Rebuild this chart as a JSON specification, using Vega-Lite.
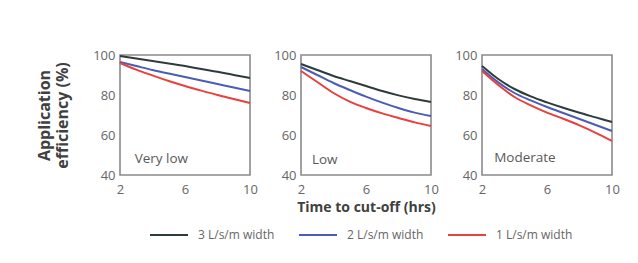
{
  "$schema": "https://vega.github.io/schema/vega-lite/v6.json",
  "autosize": {"type": "pad"},
  "padding": {"left": 35, "top": 48, "right": 18, "bottom": 20},
  "background": "white",
  "datasets": {
    "eff": [
      {"panel": "Very low", "flow": "3 L/s/m width", "t": 2, "eff": 99.5},
      {"panel": "Very low", "flow": "3 L/s/m width", "t": 3, "eff": 98.3},
      {"panel": "Very low", "flow": "3 L/s/m width", "t": 4, "eff": 97},
      {"panel": "Very low", "flow": "3 L/s/m width", "t": 5, "eff": 95.8},
      {"panel": "Very low", "flow": "3 L/s/m width", "t": 6, "eff": 94.5},
      {"panel": "Very low", "flow": "3 L/s/m width", "t": 7, "eff": 93},
      {"panel": "Very low", "flow": "3 L/s/m width", "t": 8, "eff": 91.6},
      {"panel": "Very low", "flow": "3 L/s/m width", "t": 9, "eff": 90},
      {"panel": "Very low", "flow": "3 L/s/m width", "t": 10, "eff": 88.5},
      {"panel": "Very low", "flow": "2 L/s/m width", "t": 2, "eff": 96.5},
      {"panel": "Very low", "flow": "2 L/s/m width", "t": 3, "eff": 94.5},
      {"panel": "Very low", "flow": "2 L/s/m width", "t": 4, "eff": 92.5},
      {"panel": "Very low", "flow": "2 L/s/m width", "t": 5, "eff": 90.7},
      {"panel": "Very low", "flow": "2 L/s/m width", "t": 6, "eff": 89},
      {"panel": "Very low", "flow": "2 L/s/m width", "t": 7, "eff": 87.2},
      {"panel": "Very low", "flow": "2 L/s/m width", "t": 8, "eff": 85.5},
      {"panel": "Very low", "flow": "2 L/s/m width", "t": 9, "eff": 83.8},
      {"panel": "Very low", "flow": "2 L/s/m width", "t": 10, "eff": 82},
      {"panel": "Very low", "flow": "1 L/s/m width", "t": 2, "eff": 96},
      {"panel": "Very low", "flow": "1 L/s/m width", "t": 3, "eff": 92.7},
      {"panel": "Very low", "flow": "1 L/s/m width", "t": 4, "eff": 89.8},
      {"panel": "Very low", "flow": "1 L/s/m width", "t": 5, "eff": 87},
      {"panel": "Very low", "flow": "1 L/s/m width", "t": 6, "eff": 84.5},
      {"panel": "Very low", "flow": "1 L/s/m width", "t": 7, "eff": 82.2},
      {"panel": "Very low", "flow": "1 L/s/m width", "t": 8, "eff": 80},
      {"panel": "Very low", "flow": "1 L/s/m width", "t": 9, "eff": 78},
      {"panel": "Very low", "flow": "1 L/s/m width", "t": 10, "eff": 76},
      {"panel": "Low", "flow": "3 L/s/m width", "t": 2, "eff": 95.5},
      {"panel": "Low", "flow": "3 L/s/m width", "t": 3, "eff": 92.5},
      {"panel": "Low", "flow": "3 L/s/m width", "t": 4, "eff": 89.5},
      {"panel": "Low", "flow": "3 L/s/m width", "t": 5, "eff": 87},
      {"panel": "Low", "flow": "3 L/s/m width", "t": 6, "eff": 84.5},
      {"panel": "Low", "flow": "3 L/s/m width", "t": 7, "eff": 82},
      {"panel": "Low", "flow": "3 L/s/m width", "t": 8, "eff": 79.8},
      {"panel": "Low", "flow": "3 L/s/m width", "t": 9, "eff": 78},
      {"panel": "Low", "flow": "3 L/s/m width", "t": 10, "eff": 76.5},
      {"panel": "Low", "flow": "2 L/s/m width", "t": 2, "eff": 94},
      {"panel": "Low", "flow": "2 L/s/m width", "t": 3, "eff": 90},
      {"panel": "Low", "flow": "2 L/s/m width", "t": 4, "eff": 86},
      {"panel": "Low", "flow": "2 L/s/m width", "t": 5, "eff": 82.5},
      {"panel": "Low", "flow": "2 L/s/m width", "t": 6, "eff": 79.2},
      {"panel": "Low", "flow": "2 L/s/m width", "t": 7, "eff": 76.2},
      {"panel": "Low", "flow": "2 L/s/m width", "t": 8, "eff": 73.5},
      {"panel": "Low", "flow": "2 L/s/m width", "t": 9, "eff": 71.2},
      {"panel": "Low", "flow": "2 L/s/m width", "t": 10, "eff": 69.5},
      {"panel": "Low", "flow": "1 L/s/m width", "t": 2, "eff": 92},
      {"panel": "Low", "flow": "1 L/s/m width", "t": 3, "eff": 86.5},
      {"panel": "Low", "flow": "1 L/s/m width", "t": 4, "eff": 81},
      {"panel": "Low", "flow": "1 L/s/m width", "t": 5, "eff": 76.7},
      {"panel": "Low", "flow": "1 L/s/m width", "t": 6, "eff": 73.5},
      {"panel": "Low", "flow": "1 L/s/m width", "t": 7, "eff": 70.8},
      {"panel": "Low", "flow": "1 L/s/m width", "t": 8, "eff": 68.5},
      {"panel": "Low", "flow": "1 L/s/m width", "t": 9, "eff": 66.3},
      {"panel": "Low", "flow": "1 L/s/m width", "t": 10, "eff": 64.5},
      {"panel": "Moderate", "flow": "3 L/s/m width", "t": 2, "eff": 94.5},
      {"panel": "Moderate", "flow": "3 L/s/m width", "t": 3, "eff": 88},
      {"panel": "Moderate", "flow": "3 L/s/m width", "t": 4, "eff": 83},
      {"panel": "Moderate", "flow": "3 L/s/m width", "t": 5, "eff": 79.3},
      {"panel": "Moderate", "flow": "3 L/s/m width", "t": 6, "eff": 76.3},
      {"panel": "Moderate", "flow": "3 L/s/m width", "t": 7, "eff": 73.6},
      {"panel": "Moderate", "flow": "3 L/s/m width", "t": 8, "eff": 71.1},
      {"panel": "Moderate", "flow": "3 L/s/m width", "t": 9, "eff": 68.8},
      {"panel": "Moderate", "flow": "3 L/s/m width", "t": 10, "eff": 66.5},
      {"panel": "Moderate", "flow": "2 L/s/m width", "t": 2, "eff": 93},
      {"panel": "Moderate", "flow": "2 L/s/m width", "t": 3, "eff": 86.3},
      {"panel": "Moderate", "flow": "2 L/s/m width", "t": 4, "eff": 81},
      {"panel": "Moderate", "flow": "2 L/s/m width", "t": 5, "eff": 77.3},
      {"panel": "Moderate", "flow": "2 L/s/m width", "t": 6, "eff": 74},
      {"panel": "Moderate", "flow": "2 L/s/m width", "t": 7, "eff": 71},
      {"panel": "Moderate", "flow": "2 L/s/m width", "t": 8, "eff": 68},
      {"panel": "Moderate", "flow": "2 L/s/m width", "t": 9, "eff": 65},
      {"panel": "Moderate", "flow": "2 L/s/m width", "t": 10, "eff": 62},
      {"panel": "Moderate", "flow": "1 L/s/m width", "t": 2, "eff": 92},
      {"panel": "Moderate", "flow": "1 L/s/m width", "t": 3, "eff": 85},
      {"panel": "Moderate", "flow": "1 L/s/m width", "t": 4, "eff": 79},
      {"panel": "Moderate", "flow": "1 L/s/m width", "t": 5, "eff": 74.8},
      {"panel": "Moderate", "flow": "1 L/s/m width", "t": 6, "eff": 71.2},
      {"panel": "Moderate", "flow": "1 L/s/m width", "t": 7, "eff": 68.1},
      {"panel": "Moderate", "flow": "1 L/s/m width", "t": 8, "eff": 64.8},
      {"panel": "Moderate", "flow": "1 L/s/m width", "t": 9, "eff": 61.1},
      {"panel": "Moderate", "flow": "1 L/s/m width", "t": 10, "eff": 57}
    ]
  },
  "spacing": 51,
  "bounds": "flush",
  "hconcat": [
    {
      "width": 130,
      "height": 120,
      "layer": [
        {
          "data": {"name": "eff"},
          "transform": [{"filter": "datum.panel === 'Very low'"}],
          "mark": {"type": "line", "interpolate": "monotone", "strokeWidth": 2},
          "encoding": {
            "x": {"field": "t", "type": "quantitative", "scale": {"domain": [2, 10]}, "axis": {"values": [2, 6, 10], "title": null, "labelOverlap": false}},
            "y": {"field": "eff", "type": "quantitative", "scale": {"domain": [40, 100]},
                  "axis": {"values": [40, 60, 80, 100], "labelOverlap": false, "title": ["Application", "efficiency (%)"], "titleFontSize": 16, "titleFontWeight": "bold", "titleColor": "#404040", "titleLineHeight": 18, "titlePadding": 22}},
            "color": {"field": "flow", "type": "nominal",
                      "scale": {"domain": ["3 L/s/m width", "2 L/s/m width", "1 L/s/m width"], "range": ["#2e3b3c", "#4a5db5", "#e8403c"]},
                      "legend": {"title": null, "orient": "none", "direction": "horizontal", "legendX": 29, "legendY": 160}}
          }
        },
        {
          "data": {"values": [{"label": "Very low"}]},
          "mark": {"type": "text", "align": "left", "baseline": "middle", "fontSize": 13.5, "font": "Open Sans", "fontWeight": "normal", "color": "#595959"},
          "encoding": {
            "x": {"datum": 2.9, "type": "quantitative", "axis": {"values": [2, 6, 10], "title": null, "labelOverlap": false}},
            "y": {"datum": 48, "type": "quantitative", "axis": {"values": [40, 60, 80, 100], "labelOverlap": false, "title": ["Application", "efficiency (%)"], "titleFontSize": 16, "titleFontWeight": "bold", "titleColor": "#404040", "titleLineHeight": 18, "titlePadding": 22}},
            "text": {"field": "label"}
          }
        }
      ]
    },
    {
      "width": 130,
      "height": 120,
      "layer": [
        {
          "data": {"name": "eff"},
          "transform": [{"filter": "datum.panel === 'Low'"}],
          "mark": {"type": "line", "interpolate": "monotone", "strokeWidth": 2},
          "encoding": {
            "x": {"field": "t", "type": "quantitative", "scale": {"domain": [2, 10]}, "axis": {"values": [2, 6, 10], "labelOverlap": false, "title": "Time to cut-off (hrs)", "titleFontSize": 14, "titleFontWeight": "bold", "titleColor": "#404040", "titlePadding": 4}},
            "y": {"field": "eff", "type": "quantitative", "scale": {"domain": [40, 100]}, "axis": {"values": [40, 60, 80, 100], "labelOverlap": false, "title": null}},
            "color": {"field": "flow", "type": "nominal"}
          }
        },
        {
          "data": {"values": [{"label": "Low"}]},
          "mark": {"type": "text", "align": "left", "baseline": "middle", "fontSize": 13.5, "font": "Open Sans", "fontWeight": "normal", "color": "#595959"},
          "encoding": {
            "x": {"datum": 2.67, "type": "quantitative", "axis": {"values": [2, 6, 10], "labelOverlap": false, "title": "Time to cut-off (hrs)", "titleFontSize": 14, "titleFontWeight": "bold", "titleColor": "#404040", "titlePadding": 4}},
            "y": {"datum": 47.5, "type": "quantitative", "axis": {"values": [40, 60, 80, 100], "labelOverlap": false, "title": null}},
            "text": {"field": "label"}
          }
        }
      ]
    },
    {
      "width": 130,
      "height": 120,
      "layer": [
        {
          "data": {"name": "eff"},
          "transform": [{"filter": "datum.panel === 'Moderate'"}],
          "mark": {"type": "line", "interpolate": "monotone", "strokeWidth": 2},
          "encoding": {
            "x": {"field": "t", "type": "quantitative", "scale": {"domain": [2, 10]}, "axis": {"values": [2, 6, 10], "labelOverlap": false, "title": null}},
            "y": {"field": "eff", "type": "quantitative", "scale": {"domain": [40, 100]}, "axis": {"values": [40, 60, 80, 100], "labelOverlap": false, "title": null}},
            "color": {"field": "flow", "type": "nominal"}
          }
        },
        {
          "data": {"values": [{"label": "Moderate"}]},
          "mark": {"type": "text", "align": "left", "baseline": "middle", "fontSize": 13.5, "font": "Open Sans", "fontWeight": "normal", "color": "#595959"},
          "encoding": {
            "x": {"datum": 2.75, "type": "quantitative", "axis": {"values": [2, 6, 10], "labelOverlap": false, "title": null}},
            "y": {"datum": 48.3, "type": "quantitative", "axis": {"values": [40, 60, 80, 100], "labelOverlap": false, "title": null}},
            "text": {"field": "label"}
          }
        }
      ]
    }
  ],
  "config": {
    "font": "Open Sans",
    "view": {"stroke": "#8a8a8a", "strokeWidth": 1.6},
    "axis": {
      "grid": false,
      "domain": false,
      "ticks": false,
      "tickSize": 0,
      "labelFont": "Open Sans",
      "labelFontSize": 13,
      "labelColor": "#666666",
      "labelFlush": false,
      "titleFont": "Open Sans"
    },
    "axisX": {"labelPadding": 8},
    "axisY": {"labelPadding": 5},
    "legend": {
      "symbolType": "stroke",
      "symbolSize": 1444,
      "symbolStrokeWidth": 2,
      "labelFont": "Open Sans",
      "labelFontSize": 12,
      "labelColor": "#666666",
      "labelOffset": 9,
      "columnPadding": 20
    }
  }
}
